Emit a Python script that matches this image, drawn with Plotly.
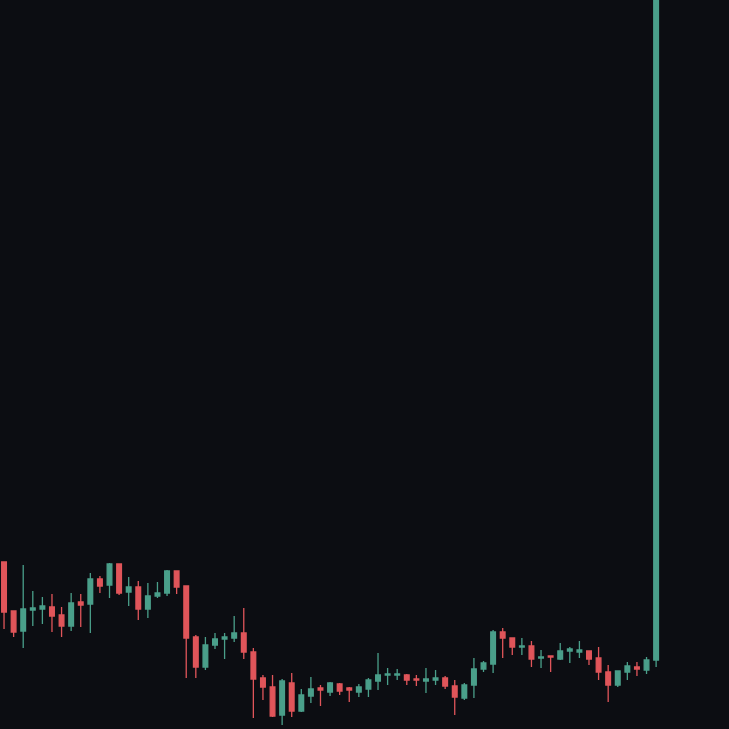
import plotly.graph_objects as go

opens  = [167,118,98,119,120,122,114,103,127,125,150,144,165,137,142,120,133,136,158,143,92,62,84,90,91,96,77,51,42,14,46,18,33,41,37,45,41,37,40,48,54,54,54,50,48,49,51,43,31,44,60,65,97,91,82,83,71,73,70,78,77,78,71,57,44,57,62,59,69]
highs  = [167,118,164,138,132,135,122,136,135,156,153,166,165,152,148,146,147,159,158,143,94,92,96,96,113,121,81,54,54,50,56,40,52,44,47,46,42,45,51,76,61,60,55,54,61,59,53,49,46,71,68,99,101,91,91,88,79,73,86,82,88,78,82,64,58,67,67,72,760]
lows   = [100,92,81,103,105,97,92,98,102,96,136,131,134,123,109,111,131,133,135,51,51,59,80,70,87,70,11,29,12,4,12,17,26,23,33,34,27,32,32,39,44,49,44,43,36,44,40,14,29,31,57,56,71,74,74,62,61,57,69,66,71,64,49,27,42,49,53,55,62]
closes = [117,97,120,121,123,113,103,126,124,150,143,165,136,142,120,133,136,158,142,91,62,84,90,92,96,77,50,42,13,48,18,34,40,39,46,38,39,42,49,54,55,55,49,49,50,51,43,32,44,60,66,97,91,82,83,70,72,72,78,80,79,70,57,44,58,63,60,69,760]
idx = list(range(len(opens)))

fig = go.Figure(go.Candlestick(
    x=idx, open=opens, high=highs, low=lows, close=closes,
    increasing=dict(line=dict(color="#4a9f8a", width=1.3), fillcolor="#4a9f8a"),
    decreasing=dict(line=dict(color="#e0555a", width=1.3), fillcolor="#e0555a"),
    whiskerwidth=0, showlegend=False, hoverinfo="skip"))

fig.update_layout(
    width=729, height=729, margin=dict(l=0, r=0, t=0, b=0),
    paper_bgcolor="#0c0d12", plot_bgcolor="#0c0d12",
    xaxis=dict(range=[-0.42, 75.6], visible=False, rangeslider=dict(visible=False), showgrid=False),
    yaxis=dict(range=[0, 729], visible=False, showgrid=False),
)
fig.write_html("out.html", config={"displayModeBar": False},
               post_script="document.body.style.margin='0';document.body.style.background='#0c0d12';document.body.style.overflow='hidden';")
